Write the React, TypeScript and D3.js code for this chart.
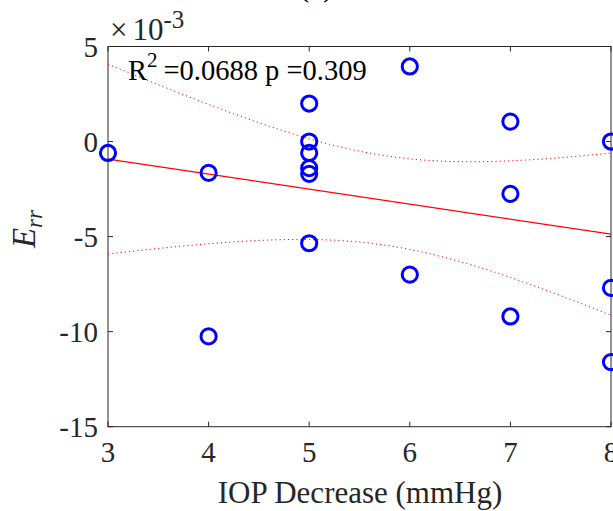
import React from "react";
import * as d3 from "d3";

const xValues = [3, 4, 4, 5, 5, 5, 5, 5, 5, 6, 6, 7, 7, 7, 8, 8, 8];
const yValues = [-0.6, -1.65, -10.25, 2.0, 0.0, -0.6, -1.4, -1.7, -5.35, 3.95, -7.0, 1.05, -2.75, -9.2, 0.0, -7.7, -11.6];
const xTicks = [3, 4, 5, 6, 7, 8];
const yTicks = [-15, -10, -5, 0, 5];
const statsR2 = "0.0688";
const statsP = "0.309";
const tCrit = 2.1314; // t(0.975, df=15)

const W = 613;
const H = 511;
const ax = { left: 108, right: 611, top: 46.5, bottom: 426.7 };
const axisColor = "#262626";
const serif = "'Liberation Serif', 'Times New Roman', serif";

export default function App() {
  const x = d3.scaleLinear().domain([3, 8]).range([ax.left, ax.right]);
  const y = d3.scaleLinear().domain([-15, 5]).range([ax.bottom, ax.top]);

  const n = xValues.length;
  const mx = d3.mean(xValues) as number;
  const my = d3.mean(yValues) as number;
  let sxx = 0, sxy = 0;
  for (let i = 0; i < n; i++) {
    sxx += (xValues[i] - mx) ** 2;
    sxy += (xValues[i] - mx) * (yValues[i] - my);
  }
  const b = sxy / sxx;
  const a = my - b * mx;
  let sse = 0;
  for (let i = 0; i < n; i++) sse += (yValues[i] - (a + b * xValues[i])) ** 2;
  const s = Math.sqrt(sse / (n - 2));
  const xs = d3.range(0, 101).map((i) => 3 + (5 * i) / 100);
  const hw = (xv: number) => tCrit * s * Math.sqrt(1 / n + (xv - mx) ** 2 / sxx);
  const upper = xs.map((xv) => [xv, a + b * xv + hw(xv)] as [number, number]);
  const lower = xs.map((xv) => [xv, a + b * xv - hw(xv)] as [number, number]);
  const fit = [[3, a + b * 3], [8, a + b * 8]] as [number, number][];
  const line = d3.line<[number, number]>().x((d) => x(d[0])).y((d) => y(d[1]));

  return (
    <svg width={W} height={H} style={{ position: "absolute", left: 0, top: 0, background: "#fff" }} fontFamily={serif}>
      <rect x={0} y={0} width={W} height={H} fill="#fff" />
      {/* title (cropped) */}
      <text x={316} y={-4} textAnchor="middle" fontSize={31} fill="#000">(c)</text>

      {/* axes box */}
      <rect x={ax.left} y={ax.top} width={ax.right - ax.left} height={ax.bottom - ax.top} fill="none" stroke={axisColor} strokeWidth={1} />
      {xTicks.map((t) => (
        <g key={"xt" + t}>
          <line x1={x(t)} x2={x(t)} y1={ax.bottom} y2={ax.bottom - 5} stroke={axisColor} />
          <line x1={x(t)} x2={x(t)} y1={ax.top} y2={ax.top + 5} stroke={axisColor} />
          <text x={x(t)} y={462} textAnchor="middle" fontSize={29} fill={axisColor}>{t}</text>
        </g>
      ))}
      {yTicks.map((t) => (
        <g key={"yt" + t}>
          <line x1={ax.left} x2={ax.left + 5} y1={y(t)} y2={y(t)} stroke={axisColor} />
          <line x1={ax.right} x2={ax.right - 5} y1={y(t)} y2={y(t)} stroke={axisColor} />
          <text x={98} y={y(t)} dy="0.35em" textAnchor="end" fontSize={29} fill={axisColor}>{t}</text>
        </g>
      ))}

      {/* exponent */}
      <text x={110} y={40} fontSize={31} fill={axisColor}>
        ×<tspan dx={5}>10</tspan><tspan fontSize={25} dy={-12}>-3</tspan>
      </text>

      {/* fit and confidence bands */}
      <path d={line(upper) || ""} fill="none" stroke="#ff0000" strokeWidth={1} strokeDasharray="1.2,3" />
      <path d={line(lower) || ""} fill="none" stroke="#ff0000" strokeWidth={1} strokeDasharray="1.2,3" />
      <path d={line(fit) || ""} fill="none" stroke="#ff0000" strokeWidth={1.2} />

      {/* points */}
      {xValues.map((xv, i) => (
        <circle key={"p" + i} cx={x(xv)} cy={y(yValues[i])} r={7.6} fill="none" stroke="#0000ff" strokeWidth={3} />
      ))}

      {/* stats text */}
      <text x={128} y={80} fontSize={28.5} fill="#000">
        R<tspan fontSize={21} dy={-13}>2</tspan>
        <tspan dy={13} dx={6}>{"=" + statsR2 + " p =" + statsP}</tspan>
      </text>

      {/* labels */}
      <text x={360} y={503} textAnchor="middle" fontSize={31} fill={axisColor}>IOP Decrease (mmHg)</text>
      <text transform="translate(35,229) rotate(-90)" textAnchor="middle" fontSize={33} fontStyle="italic" fill={axisColor}>
        E<tspan fontSize={23} dy={7}>rr</tspan>
      </text>
    </svg>
  );
}
